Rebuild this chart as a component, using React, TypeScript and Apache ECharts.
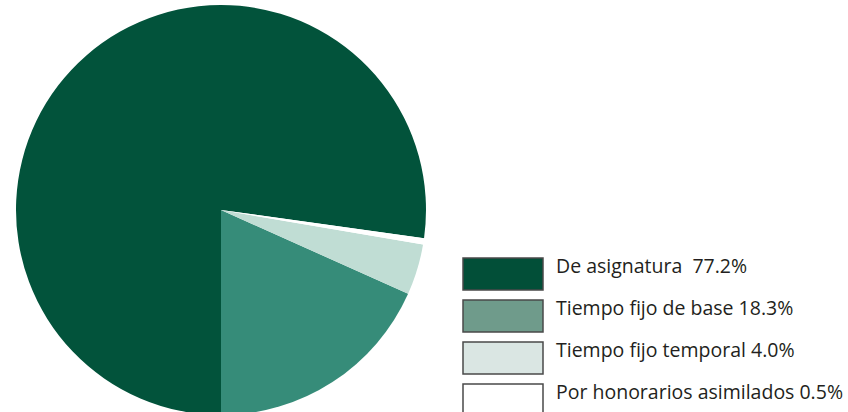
import React, { useEffect, useRef } from "react";
import * as echarts from "echarts";

const categories = [
  "De asignatura",
  "Tiempo fijo de base",
  "Tiempo fijo temporal",
  "Por honorarios asimilados",
];
const values = [77.2, 18.3, 4.0, 0.5];
const separators = ["  ", " ", " ", " "];
const pieColors = ["#02533b", "#368c79", "#c0ddd4", "#ffffff"];
const legendColors = ["#024f38", "#6f9b8b", "#dae6e3", "#ffffff"];

export default function App() {
  const ref = useRef<HTMLDivElement>(null);
  useEffect(() => {
    document.body.style.margin = "0";
    document.body.style.overflow = "hidden";
    if (!ref.current) return;
    const chart = echarts.init(ref.current, undefined, { renderer: "svg" });
    const total = values.reduce((a, b) => a + b, 0);
    const darkAngle = (values[0] / total) * 360;

    const legendLeft = 463;
    const legendTop = 258;
    const boxW = 80;
    const boxH = 32;
    const step = 42;
    const legendGraphics: any[] = [];
    categories.forEach((name, i) => {
      const y = legendTop + i * step;
      legendGraphics.push({
        type: "rect",
        shape: { x: legendLeft, y, width: boxW, height: boxH },
        style: { fill: legendColors[i], stroke: "#4a4a4a", lineWidth: 1.5 },
        silent: true,
      });
      legendGraphics.push({
        type: "text",
        x: legendLeft + boxW + 13,
        y: y + 7,
        style: {
          text: `${name}${separators[i]}${values[i].toFixed(1)}%`,
          fontFamily: "Open Sans",
          fontSize: 19.5,
          fill: "#231f20",
          verticalAlign: "middle",
          align: "left",
        },
        silent: true,
      });
    });

    chart.setOption({
      animation: false,
      backgroundColor: "#ffffff",
      graphic: legendGraphics,
      series: [
        {
          type: "pie",
          center: [221, 210],
          radius: 205,
          clockwise: false,
          startAngle: 270 - darkAngle,
          label: { show: false },
          labelLine: { show: false },
          emphasis: { disabled: true },
          itemStyle: { borderColor: "#ffffff", borderWidth: 0 },
          data: categories.map((name, i) => ({
            name,
            value: values[i],
            itemStyle: { color: pieColors[i] },
          })),
        },
      ],
    });
    return () => chart.dispose();
  }, []);
  return <div ref={ref} style={{ width: 848, height: 412 }} />;
}
